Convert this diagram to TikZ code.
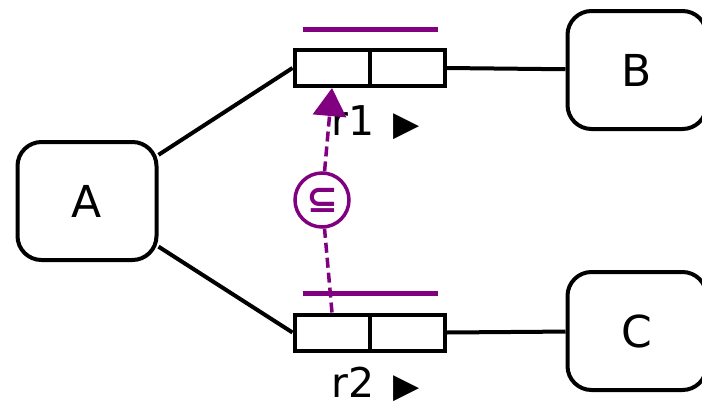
\documentclass[tikz,border=0pt]{standalone}
\usepackage{fontspec}
\setmainfont{DejaVu Sans}
\usetikzlibrary{matrix,positioning,arrows.meta}
\definecolor{relpurple}{RGB}{128,0,128}
\newcommand{\plotRegister}[2]
{
	\matrix [matrix of nodes,
	ampersand replacement=\&,
	nodes in empty cells,
	inner sep=0pt, outer sep=0pt,
	column sep=-4pt,
	nodes={draw, minimum width=75pt, minimum height=36pt, inner sep=0pt, outer sep=2pt},
	](#1) at (#2){
		\& \\
	};
}
\newcommand{\regname}[1]{#1\hspace{19pt}{\fontsize{34}{36}\selectfont ▶}}
\tikzset{
	party/.style = {draw, rounded corners=24pt, minimum width=139pt, minimum height=118pt, font=\fontsize{44}{50}\selectfont},
	reglabel/.style = {font=\fontsize{41}{46}\selectfont, inner sep=0pt, anchor=base west},
	relbar/.style = {draw=relpurple, line width=5pt},
	relflow/.style = {draw=relpurple, line width=3.5pt, dash pattern=on 10pt off 5pt},
	relop/.style = {circle, draw=relpurple, fill=white, line width=3.5pt, minimum size=54pt, inner sep=0pt, text=relpurple, font=\bfseries\fontsize{38}{40}\selectfont},
}
\begin{document}
\begin{tikzpicture}[x=1pt,y=-1pt,line width=4pt]
\useasboundingbox (0,0) rectangle (702,405);

\node[party] (A) at (87,201) {A};
\node[party] (B) at (637,70) {B};
\node[party] (C) at (637,331) {C};

\plotRegister{r1}{369.5,68}
\plotRegister{r2}{369.5,332.5}

\node[below=47pt of r1.south west, reglabel, xshift=37pt] (r1lab) {\regname{r1}};
\node[below=45pt of r2.south west, reglabel, xshift=37pt] (r2lab) {\regname{r2}};

\draw (A) -- (r1.west);
\draw (A) -- (r2.west);
\draw (r1.east) -- (B);
\draw (r2.east) -- (C);

% ownership bars
\draw[relbar] ([xshift=10pt,yshift=19pt]r1.north west) -- ([xshift=-9pt,yshift=19pt]r1.north east);
\draw[relbar] ([xshift=10pt,yshift=19pt]r2.north west) -- ([xshift=-9pt,yshift=19pt]r2.north east);

% subset relation
\node[relop] (sub) at (322,200) {⊆};
\draw[relflow] (r2-1-1.north) -- (sub);
\draw[relflow, -{Triangle[width=33pt,length=28pt]}] (sub) -- (r1-1-1.south);
\end{tikzpicture}
\end{document}
